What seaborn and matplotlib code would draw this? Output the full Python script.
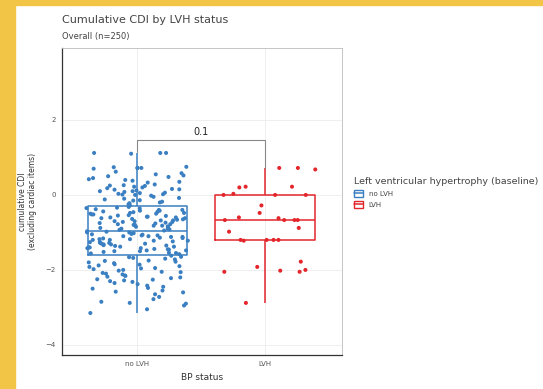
import matplotlib
matplotlib.use("Agg")
from matplotlib import pyplot as plt
from matplotlib.patches import Rectangle, Patch
from matplotlib.lines import Line2D
import seaborn as sns
import pandas as pd
import numpy as np

groups = ["no LVH", "LVH"]
colors = ["#3a7fc1", "#e3262b"]

no_lvh = [
    1.12, 1.12, 1.10, 1.12,
    0.75, 0.72, 0.72, 0.70, 0.74, 0.72,
    0.55, 0.48, 0.40, 0.45, 0.62, 0.35, 0.50, 0.38, 0.58, 0.42, 0.33, 0.52,
    0.25, 0.20, 0.15, 0.10, 0.05, 0.02, 0.28, 0.22, 0.18, 0.12, 0.08, 0.00,
    0.26, 0.16, 0.06, 0.03, 0.24, 0.14, 0.10, 0.01,
    -0.05, -0.10, -0.15, -0.20, -0.25, -0.08, -0.12, -0.18, -0.22, -0.28,
    -0.02, -0.14,
    -0.32, -0.35, -0.38, -0.40, -0.42, -0.45, -0.48, -0.50, -0.52, -0.55,
    -0.58, -0.60, -0.62, -0.65, -0.68, -0.70, -0.72, -0.75, -0.78, -0.80,
    -0.82, -0.85, -0.88, -0.90, -0.93, -0.34, -0.44, -0.54, -0.64, -0.74,
    -0.84, -0.36, -0.46, -0.56, -0.66, -0.76, -0.86, -0.40, -0.50, -0.60,
    -0.70, -0.80, -0.90, -0.42, -0.62, -0.82, -0.52, -0.72, -0.92, -0.48,
    -0.58, -0.68, -0.78,
    -0.95,
    -0.97, -1.00, -1.02, -1.05, -1.08, -1.10, -1.12, -1.15, -1.18, -1.20,
    -1.22, -1.25, -1.28, -1.30, -1.32, -1.35, -1.38, -1.40, -1.42, -1.45,
    -1.48, -1.50, -1.52, -1.55, -1.58, -0.98, -1.04, -1.14, -1.24, -1.34,
    -1.44, -1.54, -1.06, -1.16, -1.26, -1.36, -1.46, -1.56, -1.00, -1.10,
    -1.20, -1.30, -1.40, -1.50, -1.08, -1.18, -1.28, -1.38, -1.48, -1.12,
    -1.22, -1.32, -1.42,
    -1.62, -1.65, -1.68, -1.70, -1.72, -1.75, -1.78, -1.80, -1.82, -1.85,
    -1.88, -1.90, -1.92, -1.95, -1.98, -2.00, -1.66, -1.76, -1.86, -1.96,
    -2.02, -2.05, -2.08, -2.10, -2.12, -2.15, -2.18, -2.20, -2.22, -2.25,
    -2.28, -2.30, -2.32, -2.35, -2.38, -2.06, -2.16, -2.26,
    -2.42, -2.45, -2.50, -2.55, -2.60, -2.48, -2.58, -2.65, -2.72, -2.78,
    -2.85, -2.90, -2.95, -2.88, -3.05, -3.15,
]

lvh = [
    0.68, 0.72, 0.72, 0.22, 0.03, 0.22, 0.20, 0.0, 0.0, 0.0,
    -0.28, -0.48, -0.67, -0.67, -0.67, -0.62, -0.60, -0.67, -0.98, -0.88,
    -1.2, -1.22, -1.2, -1.2, -1.2, -1.78, -1.92, -2.0, -2.05, -2.05,
    -2.02, -2.88,
]

p_label = "0.1"
y_ticks = [2, 0, -2, -4]


def main():
    df = pd.DataFrame({
        "group": ["no LVH"] * len(no_lvh) + ["LVH"] * len(lvh),
        "cdi": no_lvh + lvh,
    })
    pal = dict(zip(groups, colors))

    sns.set_style("white")
    plt.rcParams["font.family"] = ["DejaVu Sans"]
    fig = plt.figure(figsize=(5.43, 3.89), dpi=100)
    fig.patch.set_facecolor("white")
    # yellow frame of the screenshot
    fig.patches.append(Rectangle((0, 0), 15 / 543, 1, transform=fig.transFigure,
                                 color="#f2c547", zorder=0))
    fig.patches.append(Rectangle((0, 1 - 5 / 389), 1, 5 / 389,
                                 transform=fig.transFigure, color="#f2c547", zorder=0))

    ax = fig.add_axes([62 / 543, 1 - 355 / 389, 280 / 543, 307 / 389])
    sns.boxplot(data=df, x="group", y="cdi", hue="group",
                order=groups, hue_order=groups, palette=pal, fill=False,
                showfliers=False, showcaps=False, width=0.78, linewidth=1.1,
                legend=False, ax=ax)
    np.random.seed(7)
    sns.stripplot(data=df, x="group", y="cdi", hue="group", order=groups,
                  hue_order=groups, palette=pal, jitter=0.4, size=2.9,
                  linewidth=0, legend=False, ax=ax, zorder=3)

    # significance bracket
    ax.plot([0, 0, 1, 1], [1.15, 1.47, 1.47, 0.72], color="#888888", lw=0.8)
    ax.text(0.5, 1.55, p_label, ha="center", va="bottom", fontsize=7,
            color="#222222")

    ax.set_xlim(-0.59, 1.6)
    ax.set_ylim(-4.27, 3.92)
    ax.set_yticks(y_ticks)
    ax.grid(True, color="#ececec", lw=0.6)
    ax.set_axisbelow(True)
    ax.tick_params(axis="both", labelsize=5, colors="#555555", length=2.5,
                   width=0.6, pad=2)
    for side in ["left", "bottom"]:
        ax.spines[side].set_color("#333333")
        ax.spines[side].set_linewidth(0.9)
    for side in ["top", "right"]:
        ax.spines[side].set_color("#bbbbbb")
        ax.spines[side].set_linewidth(0.6)

    ax.set_xlabel("BP status", fontsize=6.5, color="#333333", labelpad=4)
    ax.set_ylabel("cumulative CDI\n(excluding cardiac items)", fontsize=5.5,
                  color="#333333", labelpad=6)

    fig.text(62 / 543, 1 - 20 / 389, "Cumulative CDI by LVH status",
             fontsize=8, color="#444444", va="center")
    fig.text(62 / 543, 1 - 37 / 389, "Overall (n=250)", fontsize=6,
             color="#444444", va="center")

    handles = [
        (Patch(facecolor="white", edgecolor=c, lw=1),
         Line2D([], [], color=c, lw=1.1))
        for c in colors
    ]
    leg = fig.legend(handles, groups, title="Left ventricular hypertrophy (baseline)",
                     loc="upper left", bbox_to_anchor=(354 / 543, 1 - 177 / 389),
                     frameon=False, fontsize=5, title_fontsize=6.8,
                     handlelength=1.3, handleheight=1.2, labelspacing=0.55,
                     handletextpad=0.8, borderaxespad=0, borderpad=0)
    leg._legend_box.align = "left"
    for t in leg.get_texts():
        t.set_color("#444444")
    leg.get_title().set_color("#444444")

    fig.savefig("out.png", dpi=100)


if __name__ == "__main__":
    main()
